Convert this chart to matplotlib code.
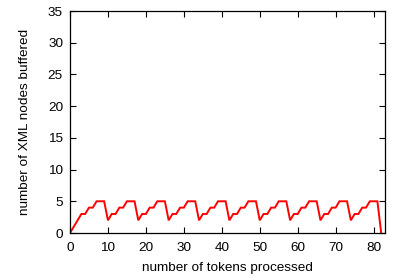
import matplotlib
matplotlib.use("Agg")
import matplotlib.pyplot as plt

tokens = list(range(0, 83))
buffered = [0, 1, 2, 3, 3, 4, 4, 5, 5, 5,
            2, 3, 3, 4, 4, 5, 5, 5,
            2, 3, 3, 4, 4, 5, 5, 5,
            2, 3, 3, 4, 4, 5, 5, 5,
            2, 3, 3, 4, 4, 5, 5, 5,
            2, 3, 3, 4, 4, 5, 5, 5,
            2, 3, 3, 4, 4, 5, 5, 5,
            2, 3, 3, 4, 4, 5, 5, 5,
            2, 3, 3, 4, 4, 5, 5, 5,
            2, 3, 3, 4, 4, 5, 5, 5,
            0]
xticks = [0, 10, 20, 30, 40, 50, 60, 70, 80]
yticks = [0, 5, 10, 15, 20, 25, 30, 35]

plt.rcParams['font.family'] = ['Liberation Sans', 'DejaVu Sans']
fig = plt.figure(figsize=(3.98, 2.77), dpi=100)
ax = fig.add_axes([70/398, 1-233/277, (385-70)/398, (233-11)/277])
ax.plot(tokens, buffered, color='#ff0000', lw=1.4, solid_joinstyle='miter')
ax.set_xlim(0, 83)
ax.set_ylim(0, 35)
ax.set_xticks(xticks)
ax.set_yticks(yticks)
ax.tick_params(direction='in', length=4, width=0.8, labelsize=9.7,
               top=True, right=True)
ax.tick_params(axis='y', pad=5)
ax.tick_params(axis='x', pad=6.5)
for s in ax.spines.values():
    s.set_linewidth(0.9)
ax.set_xlabel('number of tokens processed', fontsize=9.7, labelpad=6)
ax.set_ylabel('number of XML nodes buffered', fontsize=9.7, labelpad=12)
fig.savefig('out.png', dpi=100)
